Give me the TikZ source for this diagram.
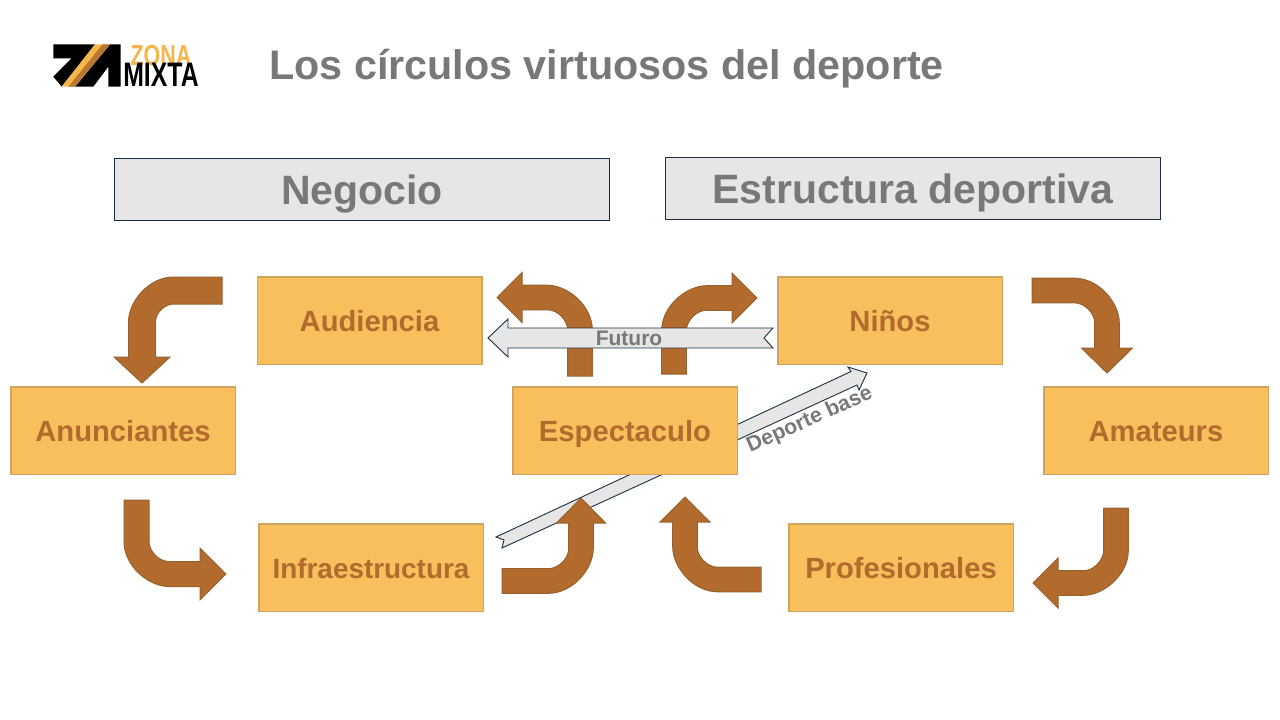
\documentclass[tikz,border=0pt]{standalone}
\usepackage{fontspec}
\setmainfont{Liberation Sans}
\definecolor{boxfill}{HTML}{F9BF5C}
\definecolor{boxedge}{HTML}{CFA45C}
\definecolor{rust}{HTML}{B36A2D}
\definecolor{rustedge}{HTML}{96622F}
\definecolor{greyfill}{HTML}{E6E6E6}
\definecolor{navy}{HTML}{1C2F42}
\definecolor{greytext}{HTML}{787878}
\definecolor{logogold}{HTML}{F7B54C}
\definecolor{logobrown}{HTML}{B9772F}
\newcommand{\fs}[1]{\fontsize{#1}{#1}\selectfont\bfseries}
\tikzset{
  stepbox/.style={draw=boxedge,line width=1.5pt,fill=boxfill,minimum width=224.5pt,minimum height=87.5pt,inner sep=0pt,text=rust,font=\fs{29.2},text height=21.8pt,text depth=0pt},
  headbox/.style={draw=navy,line width=1pt,fill=greyfill,minimum width=495pt,minimum height=62pt,inner sep=0pt,text=greytext,font=\fs{41},text height=30.2pt,text depth=0pt},
  bentshape/.style={fill=rust,draw=rustedge,line width=1pt,line join=miter},
  flatarrow/.style={fill=greyfill,draw=navy,line width=0.9pt,line join=miter},
  greylabel/.style={text=greytext,inner sep=0pt,text height=15pt,text depth=0pt}
}
% origin, first direction, second direction, L1, L2, half shaft, half head, head length
\newcommand{\bent}[8]{%
  \begin{scope}[shift={#1},x={#2},y={#3}]
    \pgfmathsetmacro{\R}{45}
    \pgfmathsetmacro{\r}{\R-2*#6}
    \pgfmathsetmacro{\kk}{0.45}
    \draw[bentshape] (0,-#6) -- ({#4+#6-\R},-#6)
      .. controls ({#4+#6-\kk*\R},-#6) and ({#4+#6},{-#6+\R-\kk*\R}) .. ({#4+#6},{-#6+\R})
      -- ({#4+#6},{#5-#8}) -- ({#4+#7},{#5-#8}) -- (#4,#5) -- ({#4-#7},{#5-#8}) -- ({#4-#6},{#5-#8})
      -- ({#4-#6},{#6+\r})
      .. controls ({#4-#6},{#6+\kk*\r}) and ({#4-#6-\r+\kk*\r},#6) .. ({#4-#6-\r},#6)
      -- (0,#6) -- cycle;
  \end{scope}}
\begin{document}
\begin{tikzpicture}[x=1pt,y=-1pt]
\useasboundingbox (0,0) rectangle (1280,720);
\fill[white] (0,0) rectangle (1280,720);

% logo
\begin{scope}[shift={(30,30)},x=0.3333pt,y=-0.3333pt]
  \fill[black] (70,43) -- (195,43) -- (95,170) -- (70,140) -- (125,85) -- (70,85) -- cycle;
  \fill[black] (240,43) -- (272,43) -- (272,170) -- (235,170) -- (235,110) -- (190,170) -- (135,170) -- cycle;
  \fill[logogold] (195,43) -- (240,43) -- (135,170) -- (95,170) -- cycle;
  \fill[logobrown] (218,43) -- (240,43) -- (135,170) -- (115,170) -- cycle;
\end{scope}
\node[name=logozona,text=logogold,inner sep=0pt,transform shape,xscale=0.74,font=\fs{29}] at (161,55.5) {ZONA};
\node[name=logomixta,text=black,inner sep=0pt,transform shape,xscale=0.73,font=\fs{34}] at (161,74.5) {MIXTA};

\node[name=title,anchor=west,inner sep=0pt,text=greytext,font=\fs{41.3},text height=29.6pt,text depth=0pt] at (269,65) {Los círculos virtuosos del deporte};

\node[headbox,name=negocio] at (362,189.5) {Negocio};
\node[headbox,name=estructura] at (913,188.5) {Estructura deportiva};

% Deporte base (behind box and bent arrow)
\draw[flatarrow] (496,537) -- (851,371.5) -- (848,367) -- (867,373) -- (859,390) -- (857,385) -- (502,548) -- (504,540) -- cycle;

% bent arrows
\bent{(222,290.5)}{(-1pt,0pt)}{(0pt,-1pt)}{80}{92.5}{13.5}{28}{26}
\bent{(136.5,500)}{(0pt,-1pt)}{(1pt,0pt)}{74}{89.5}{12.5}{26}{26}
\bent{(502,581)}{(1pt,0pt)}{(0pt,1pt)}{79}{83}{12.3}{24.5}{25}
\bent{(761,579.5)}{(-1pt,0pt)}{(0pt,1pt)}{76}{82.5}{12.3}{25}{25}
\bent{(1116,508)}{(0pt,-1pt)}{(-1pt,0pt)}{75}{83}{12.3}{25}{25}
\bent{(1032,290.5)}{(1pt,0pt)}{(0pt,-1pt)}{75}{82.5}{12.3}{25.5}{25}
\bent{(674,374)}{(0pt,1pt)}{(1pt,0pt)}{76}{83}{12.3}{25}{25}
\bent{(580,376)}{(0pt,1pt)}{(-1pt,0pt)}{78.5}{83}{12.3}{25}{25}

% Futuro
\draw[flatarrow] (488,338) -- (508,319) -- (508,328) -- (773,328) -- (764,338) -- (773,348) -- (508,348) -- (508,357) -- cycle;

\node[stepbox,name=audiencia] at (369.5,320.5) {Audiencia};
\node[stepbox,name=ninos] at (890,320.5) {Niños};
\node[stepbox,name=anunciantes] at (123,430.5) {Anunciantes};
\node[stepbox,name=espectaculo] at (625,430.5) {Espectaculo};
\node[stepbox,name=amateurs] at (1156,430.5) {Amateurs};
\node[stepbox,name=infra,font=\fs{27.9}] at (371,567.5) {Infraestructura};
\node[stepbox,name=profesionales] at (901,567.5) {Profesionales};

\node[greylabel,name=futuro,font=\fs{21}] at (629,338) {Futuro};
\node[greylabel,name=deporte,rotate=24,font=\fs{21.3}] at (809,418.5) {Deporte base};
\end{tikzpicture}
\end{document}
